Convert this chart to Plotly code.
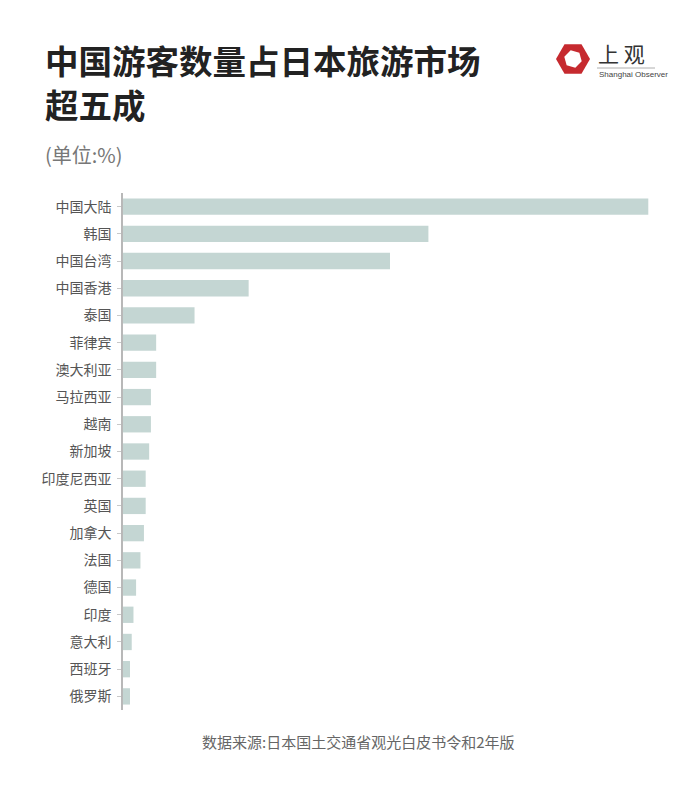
import plotly.graph_objects as go
import math

categories = ["中国大陆", "韩国", "中国台湾", "中国香港", "泰国", "菲律宾", "澳大利亚",
              "马拉西亚", "越南", "新加坡", "印度尼西亚", "英国", "加拿大", "法国",
              "德国", "印度", "意大利", "西班牙", "俄罗斯"]
values = [30.1, 17.5, 15.3, 7.2, 4.1, 1.9, 1.9, 1.6, 1.6, 1.5, 1.3, 1.3, 1.2, 1.0,
          0.75, 0.6, 0.5, 0.4, 0.4]

title_lines = ["中国游客数量占日本旅游市场", "超五成"]
unit_text = "(单位:%)"
source_text = "数据来源:日本国土交通省观光白皮书令和2年版"

W, H = 700, 786
L, R, T, B = 123, 36, 193, 76
PW, PH = W - L - R, H - T - B
FONT = "Noto Sans CJK SC"


def px(x):
    return (x - L) / PW


def py(y):
    return (H - B - y) / PH


fig = go.Figure(go.Bar(
    x=values, y=categories, orientation="h",
    marker=dict(color="#c4d6d3", line=dict(width=0)),
    width=0.6, hoverinfo="x+y",
))

fig.update_layout(
    width=W, height=H,
    margin=dict(l=L, r=R, t=T, b=B, pad=0),
    paper_bgcolor="white", plot_bgcolor="white",
    font=dict(family=FONT, color="#555"),
    showlegend=False,
    xaxis=dict(range=[0, 31], visible=False, showgrid=False, zeroline=False),
    yaxis=dict(autorange=False, range=[18.5, -0.5], type="category",
               showline=True, linecolor="#b8b8b8", linewidth=1.5,
               ticks="outside", ticklen=4, tickcolor="#c8c8c8", tickwidth=1,
               tickfont=dict(size=14, color="#555", family=FONT),
               showgrid=False, zeroline=False, ticklabelstandoff=3),
    bargap=0.4,
)

ann = []
ann.append(dict(text="<b>" + title_lines[0] + "<br>" + title_lines[1] + "</b>",
                x=px(43), y=py(81.5), xref="paper", yref="paper",
                xanchor="left", yanchor="middle", align="left", showarrow=False,
                font=dict(size=33.5, color="#222", family=FONT)))
ann.append(dict(text=unit_text, x=px(43), y=py(154), xref="paper", yref="paper",
                xanchor="left", yanchor="middle", showarrow=False,
                font=dict(size=20, color="#777", family=FONT)))
ann.append(dict(text=source_text, x=px(358), y=py(741), xref="paper", yref="paper",
                xanchor="center", yanchor="middle", showarrow=False,
                font=dict(size=15, color="#666", family=FONT)))
ann.append(dict(text="上 观", x=px(596), y=py(53), xref="paper", yref="paper",
                xanchor="left", yanchor="middle", showarrow=False,
                font=dict(size=21, color="#333", family=FONT)))
ann.append(dict(text="Shanghai Observer", x=px(597), y=py(74), xref="paper", yref="paper",
                xanchor="left", yanchor="middle", showarrow=False,
                font=dict(size=8, color="#444", family="Liberation Sans Narrow, Liberation Sans")))

# logo hexagon
cx, cy, r_out, r_in = 573, 59, 17, 9


def hexpath(r, rot):
    pts = []
    for k in range(6):
        a = math.radians(rot + 60 * k)
        pts.append((px(cx + r * math.cos(a)), py(cy + r * math.sin(a))))
    return "M " + " L ".join(f"{x:.5f},{y:.5f}" for x, y in pts) + " Z"


shapes = [
    dict(type="path", xref="paper", yref="paper", path=hexpath(r_out, 0),
         fillcolor="#c62a2f", line=dict(width=0)),
    dict(type="path", xref="paper", yref="paper", path=hexpath(r_in, 15),
         fillcolor="white", line=dict(width=0)),
    dict(type="line", xref="paper", yref="paper", x0=px(597), x1=px(655), y0=py(68), y1=py(68),
         line=dict(color="#999", width=0.8)),
]
fig.update_layout(annotations=ann, shapes=shapes)

fig.write_html("out.html")
